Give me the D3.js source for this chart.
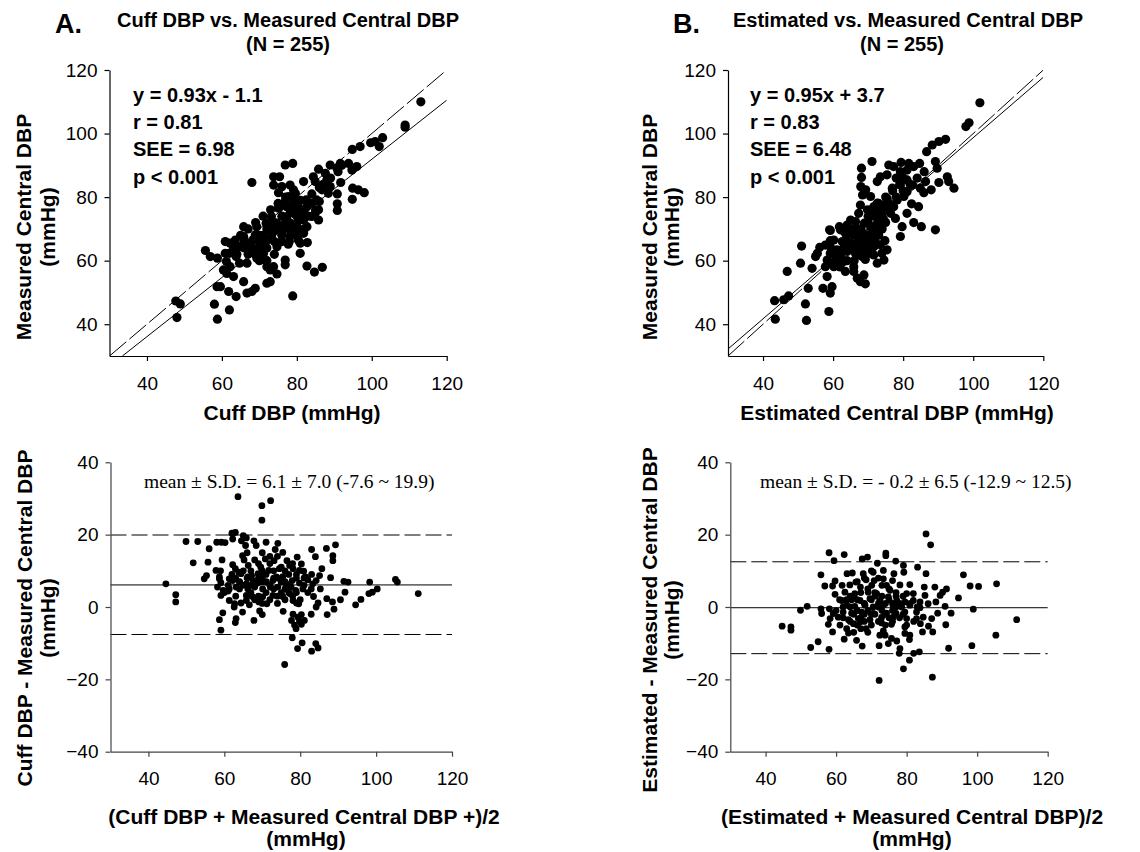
<!DOCTYPE html>
<html>
<head>
<meta charset="utf-8">
<script src="https://cdn.jsdelivr.net/npm/d3@7"></script>
<style>
  html, body { margin: 0; padding: 0; background: #fff; }
  svg { display: block; font-family: "Liberation Sans", Arial, Helvetica, sans-serif; }
</style>
</head>
<body>
<script>
// ---- Axis tick values ----
const xTicks = [40, 60, 80, 100, 120];
const yTicksScatter = [40, 60, 80, 100, 120];
const yTicksDiff = [-40, -20, 0, 20, 40];

// ---- Regression fits and agreement limits ----
const fitA = { slope: 0.93, intercept: -1.1 };
const fitB = { slope: 0.95, intercept: 3.7 };
const limitsA = { mean: 6.1, lower: -7.6, upper: 19.9 };
const limitsB = { mean: -0.2, lower: -12.9, upper: 12.5 };

// ---- Panel A (top): cuff DBP vs measured central DBP [cuff, central] ----
const cuffVsCentral = [
  [113.1,110],[108.9,102.7],[108.9,102],[102.9,98.7],[99.7,97.1],[100.9,97.5],[102,95.9],[96.9,95.9],[94.8,95],
  [93.8,90.6],[96,89.6],[94.7,88.5],[91.6,90.6],[88.9,90.1],[90.7,89.1],[87.6,87.5],[85.8,88.8],[94.9,82.8],
  [96.4,82.3],[98,81.4],[94.8,79.3],[91.7,84.6],[90.8,81],[90.8,77.9],[90.8,75.8],[88.9,83.3],[88.4,81.2],
  [86.7,82.3],[88,85.4],[84.4,86.4],[84.9,84.9],[81.8,84.9],[85.3,79.1],[85.8,72.8],[85.8,76],[84,78.1],
  [82.5,79.1],[84.9,74.9],[78.9,90.6],[76.9,90.1],[75.4,86.4],[73.8,86.4],[73.8,83.8],[76,83.3],[78.2,83.8],
  [79.1,82.3],[68,84.6],[75.1,81.4],[77.8,80.2],[75.3,76.8],[76.9,78.6],[79.1,78.1],[80.4,77],[81.3,74.9],
  [79.1,74.9],[77.3,73.9],[78,71.8],[80,71.8],[81.8,72.8],[82.7,70.7],[80.9,69.7],[79.1,69.7],[76.4,70.7],
  [74.7,71.8],[76,68.6],[74.2,69.7],[73.3,68.1],[78.2,67.6],[80.4,66.5],[82.8,65.7],[81.8,68.6],[77.7,65.2],
  [74.7,64.4],[72,66.5],[72.4,69.7],[71.8,71.8],[69.3,70.7],[68.9,68.1],[70.2,65.5],[68.4,66.5],[67.1,65.5],
  [65.8,67.6],[65.8,70.7],[64.9,64.4],[63.6,66.5],[62.2,65.5],[60.9,66],[63.1,63.9],[70.2,63.4],[71.1,62.3],
  [68.4,63.9],[67.1,62.3],[63.8,61.3],[62,62.3],[61.2,59.7],[62.2,58.1],[60.4,57.1],[61.3,56],[63.1,55],
  [64.7,59.2],[66.7,59.2],[69.3,60.8],[71.6,60.2],[72,58.1],[72.9,57.1],[73.8,58.1],[74.7,55.8],[76.9,60.2],
  [76.9,58.7],[80.9,62.3],[82.7,58.3],[84.7,56.4],[86.8,57.9],[65.8,53.4],[72,52.9],[72.9,53.4],[68,50.3],
  [66.7,49.8],[68.9,51.3],[59.6,51.8],[58.7,51.8],[61.8,50.3],[63.8,48.7],[78.9,48.9],[58,46.3],[62,44.5],
  [58.8,41.6],[55.6,63.2],[56.9,61.3],[58.8,60.8],[47.7,47.3],[48.9,46.4],[48,42.1],[60.9,62.3],[73.2,73.9],
  [75.1,76.5],[78.2,76],[77.3,77],[79.6,81.2],[82.7,77],[84,73.9],[86,78.6],[80.9,65.5],
  [70,68],[72,70],[74,72],[76,74],[78,72],[80,74],[82,76],[76,68],[78,70],[74,66],[72,64],[70,66],[68,64],
  [66,66],[67,62],[69,62],[71,68],[73,70],[75,70],[77,72],[79,76],[81,73],[83,78],[84,81],[86,83],[82,70],
  [80,68],[78,66],[76,66],[74,62],[72,60],[70,60],[66,64],[64,62],[63,65],[65,68],[67,70],[69,72],[71,74],
  [73,76],[75,78],[77,80],[79,80],[81,79],[83,74],[85,76],[87,84],[89,86],[91,88],[92,90]
];

// ---- Panel B (top): estimated vs measured central DBP [estimated, central] ----
const estimatedVsCentral = [
  [101.9,109.7],[98.8,103.4],[97.9,102.2],[92.1,98.2],[90.2,97.5],[88.3,96.4],[86.7,94.3],[89.2,91.2],[89.7,89.1],
  [71.1,91.2],[68.1,89.1],[75.9,90.1],[77.3,89.6],[79.4,90.9],[81.6,90.6],[84.7,90.6],[83,89.6],[81.1,88.5],
  [79.2,88],[75.4,87],[73.5,86.4],[72.6,84.9],[68.1,86.2],[67.9,83.3],[90.2,84.6],[92.6,86.4],[93,84.9],
  [94.5,82.8],[86.4,84.9],[84.9,82.8],[85.9,81.4],[88,82.3],[82.7,83.8],[81.1,85.4],[79.2,83.8],[81.1,81.7],
  [80.2,80.2],[78.3,79.1],[76.9,82.8],[75.4,79.6],[77.3,77],[82.4,77.9],[76.4,74.9],[77.8,73.3],[79.7,70.7],
  [79.2,67.6],[83,72],[85.2,70.7],[89.2,69.7],[74.5,77.5],[72.6,78.1],[70.7,80.2],[68.4,80.7],[69.3,82.3],
  [71.6,77],[69.8,76],[67.8,77.5],[67.3,74.9],[70.7,73.9],[73,74.9],[74.5,72.8],[72.6,71.8],[70.7,70.7],
  [68.9,71.8],[66.4,72.3],[65,72.8],[64,71.2],[73.5,69.7],[71.6,68.6],[69.2,67.6],[67.3,68.6],[66,69.7],
  [63.5,68.6],[62.1,69.7],[61.8,70.7],[59.2,69.5],[74.8,66.3],[73.5,65],[71.6,64.4],[69.7,65.5],[67.8,64.4],
  [65,65.5],[62.6,66],[60.2,66.5],[59.2,64.4],[61.1,63.4],[59.2,62.3],[58.3,60.2],[59.7,59.2],[62.1,61.3],
  [64,62.9],[66.4,62.3],[68.3,61.3],[70.2,62.3],[71.6,61.8],[73.9,62.3],[75.4,63.4],[74.5,60.2],[72.6,59.2],
  [69.2,60.4],[66.9,61.8],[65.9,58.1],[63,59.7],[60.2,58.1],[61.6,58.7],[63.5,56.6],[57.8,58.1],[58.3,55],
  [57.1,51.3],[59.7,51.8],[59.2,49.8],[65.9,56.6],[66.9,54.5],[68.8,55.5],[69.2,52.7],[67.8,53.4],[57.8,64.9],
  [56.2,64.2],[55,61.3],[55.5,62.3],[54,57.6],[52.9,51.3],[51,64.6],[50.7,59.2],[46.9,56.6],[52.1,46.4],
  [52.4,41.2],[47.3,48.9],[45.9,47.7],[43.3,47.4],[43.5,41.6],[58.8,44],[59,69.7],[59.2,66.3],[81.1,74.9],
  [84.4,77],
  [68,70],[70,72],[72,70],[71,66],[69,64],[67,66],[66,68],[65,64],[64,66],[63,64],[62,62],[61,60],[60,62],
  [63,60],[66,60],[68,62],[70,64],[72,66],[73,68],[74,70],[75,72],[76,76],[73,72],[71,70],[69,68],[67,70],
  [65,70],[64,68],[70,74],[72,74],[74,74],[71,76],[73,78],[75,80],[77,82],[79,84],[78,86],[80,86],[82,84],
  [84,86],[86,88],[80,82],[78,80],[76,78],[74,76],[70,68],[68,66],[66,64],[62,58],[64,60]
];

// ---- Panel A (bottom): Bland-Altman, [average, cuff - central] ----
const agreementA = [
  [63.6,30.5],[72.2,29.4],[69.9,28],[69.9,24],[62,20.4],[62.9,20.6],[65,19.7],[49.9,18.1],[53,18.1],[58,17.9],
  [59.2,17.9],[60.2,17.8],[62.2,18.8],[64.5,18.3],[65.8,19.1],[65.6,17],[67.8,18.3],[68.4,17],[71,17.9],
  [74.1,17.6],[89.3,17.2],[86.9,16.2],[83,15.9],[56,16.1],[73.4,15.9],[75.4,15.1],[84,13.9],[88.6,14.2],
  [88.6,12.8],[79.2,13.8],[64.8,14.2],[65.2,13],[70.8,13.3],[59.4,13],[51.8,12.2],[55.7,12.4],[73.1,12.8],
  [76.5,12.8],[77.2,11.5],[80.3,11.9],[62.2,11.7],[66.3,11.5],[69.6,11],[85.7,10.6],[57.8,10.1],[62.9,10.6],
  [63.8,9.6],[71.7,10.1],[74.5,10.6],[78.1,10.6],[79.8,10.1],[80.9,9.9],[64.4,9.2],[68.9,9.2],[67.2,8.7],
  [85.1,8.7],[58.7,8.3],[55.3,8.7],[54.7,7.8],[58.7,7.8],[61.3,7.8],[66.2,8.3],[70,8.3],[73.7,8.3],[75.4,8.4],
  [81.4,8.3],[88,8.1],[82,7.5],[44.6,6.4],[59.1,6.7],[62.2,7.3],[64,6.9],[67.5,7.3],[65.8,6.4],[68.8,6.6],
  [71,6.9],[72.8,7.3],[75,6.9],[76.3,6.4],[77.9,7.3],[79.8,6.6],[83.3,6.4],[84.2,7.3],[91.5,7.1],[92.6,6.9],
  [98.3,6.9],[105.1,7.6],[105.6,6.9],[58.2,5.5],[59.7,4.6],[61.3,5],[63.1,5.5],[66.2,5],[68,5.5],[70.1,5],
  [72.1,5.5],[74.1,5.5],[76.1,5],[77.6,5.5],[78.8,4.6],[80.7,5],[82.9,5],[85.3,5],[91.8,4.1],[100.3,5],
  [99,4.1],[111.1,3.7],[47.2,3.4],[47.2,1.4],[59.1,3.2],[61,4.4],[65.8,3.2],[67.5,2.8],[70.1,2.8],[72.8,3.2],
  [75.4,2.9],[77.2,3.7],[83.5,2.9],[87,2.3],[90.6,2],[98.1,3.7],[61.3,1.8],[62.7,0.9],[64.4,1.1],[66.6,0.6],
  [65.8,1.8],[69.1,1.4],[71.2,0.9],[78.1,1.8],[79,1.1],[79.6,0.9],[84.7,1.1],[88.5,1.4],[94.6,0.6],[96,2.1],
  [62.6,0],[64.8,-1.4],[69.3,-1.1],[59.6,-1.6],[75.5,-1.2],[88.9,-0.6],[84.2,0],[70,-2.1],[82.9,-2],[87.1,-2.1],
  [63.1,-3.2],[67.8,-3.7],[58.7,-3.5],[62.9,-4.3],[78.1,-2],[79.4,-2.8],[80.3,-2.1],[77.7,-3.7],[79.8,-3.9],
  [81.1,-3.7],[78.5,-5],[80.3,-4.8],[78.9,-6],[59.1,-6.4],[77.9,-8.5],[79.3,-11.5],[80.5,-9.9],[84.1,-10.1],
  [83,-12.2],[84.7,-11.3],[75.9,-15.9],
  [66,8],[68,6],[70,7],[72,6],[74,8],[76,7],[67,4],[69,3],[71,4],[73,5],[75,4],[77,6],[79,8],[64,7],[63,3],
  [65,10],[67,10],[69,12],[71,9],[73,10],[75,11],[77,9],[79,9],[81,6],[82,4],[80,2],[78,3],[76,2],[74,1],
  [72,2],[70,1],[68,2],[66,3],[64,5],[62,9],[61,6],[60,4],[59,10],[72,14],[74,14],[76,10],[78,12],[70,15],
  [68,13],[66,15],[73,8],[75,7],[71,7],[69,8],[67,6],[77,4],[79,4],[81,8],[83,9],[65,6],[63,8],[70,10],
  [72,12],[74,3],[76,5]
];

// ---- Panel B (bottom): Bland-Altman, [average, estimated - central] ----
const agreementB = [
  [85.5,20.2],[86.8,17.2],[58,15],[62.3,14.5],[74.1,14.9],[74.1,14.2],[59.4,12.8],[67.4,13.3],[68.9,13.8],
  [71.7,12.1],[76.9,12.7],[79.1,11.5],[83.1,11],[55.7,8.9],[63.1,9.2],[64.6,9.4],[67.7,9.2],[70.5,9.6],
  [73.4,10.1],[76.4,9.2],[79.2,9.6],[85.5,9.2],[96.1,8.9],[59.7,7.2],[65.6,6.9],[68.5,7.5],[70.8,7.3],
  [73.4,7.8],[76,7.3],[80.9,6.2],[98,5.8],[100.4,5.7],[105.5,6.4],[56.8,5.8],[59,5.8],[61.7,6],[63.9,6.1],
  [66.9,5.5],[70.1,6],[74.3,6],[78.1,6.1],[85,5.5],[88,5.5],[91.3,5],[90.2,4.1],[59.7,3.5],[62.5,4.1],
  [65.3,3.7],[69.1,4.1],[71.5,3.7],[75.3,4.6],[80,3.7],[81.9,3.7],[85.2,3.2],[89.5,3.2],[94.7,2.5],[61.6,1.8],
  [64.4,2],[66.8,1.8],[69.6,2.3],[72.4,1.8],[74.8,2.8],[77.2,1.8],[79.5,1.4],[81.9,1.8],[83.8,1.4],[86.1,0.9],
  [88.3,1.4],[51.8,0.2],[49.9,-0.9],[55.7,-0.5],[58.1,-0.5],[63,0.5],[65.3,0.2],[68.2,0.5],[70.5,0],[73.4,0.5],
  [76.2,0.2],[78.6,0],[80.9,0.5],[83.8,-0.2],[90.9,0.2],[98.9,-0.6],[55.9,-1.8],[59.2,-1.8],[62,-1.4],
  [64.4,-1.7],[67.2,-1.4],[70.5,-1.8],[74.3,-1.7],[77,-1.8],[79.5,-1.4],[82.8,-1.4],[88.8,-1.7],[92.6,-1.7],
  [58.3,-3.2],[60.6,-2.8],[63.5,-3.5],[66.3,-3.2],[69.6,-3.5],[72.9,-2.9],[76.2,-2.8],[80,-3.2],[82.8,-3.2],
  [84.7,-2.8],[87.1,-3.2],[111.2,-3.5],[44.7,-5.3],[47.2,-5.5],[47.2,-6.4],[57.8,-4.8],[61.1,-5],[64.9,-4.6],
  [66.8,-4.1],[72.9,-4.4],[75.7,-4.8],[79.5,-5.5],[83.9,-4.6],[86.2,-5.3],[91.1,-4.9],[59,-6.9],[63.5,-7.2],
  [68.5,-6],[73.4,-6.6],[73.9,-7.8],[79.5,-7.3],[80.9,-7.8],[84.5,-6.9],[87.4,-6.9],[72.4,-7.8],[105.3,-7.8],
  [62.3,-8.9],[65.8,-9.2],[75.7,-8.7],[77.2,-9.4],[80.8,-9],[54.9,-9.6],[52.8,-11.2],[58,-11.7],[67.4,-10.8],
  [72.2,-10.7],[74.8,-10.1],[78.1,-11.5],[77.9,-12.8],[82,-12.8],[83.6,-12.4],[91.9,-11.4],[98.5,-10.7],
  [80.8,-14.7],[79.1,-17.1],[72.2,-20.3],[87.3,-19.4],
  [64,0],[66,-1],[68,1],[70,2],[72,0],[74,1],[76,-1],[78,1],[65,-2],[67,-3],[69,-1],[71,-2],[73,-1],[75,-3],
  [77,0],[79,-2],[63,2],[65,3],[67,4],[69,5],[71,3],[73,3],[75,2],[77,3],[64,-4],[66,-5],[68,-4],[70,-5],
  [72,-4],[74,-5],[76,-4],[62,-3],[60,-1],[61,2],[63,-6],[65,-7],[67,-6],[69,-7],[71,4],[73,6],[75,5],[77,4],
  [79,3],[81,1],[83,0],[82,-4],[80,-5],[78,-3],[72,8],[70,10],[68,8],[66,7],[64,3],[62,0],[66,2],[68,-2],
  [70,-2],[72,1],[74,-2],[76,1]
];

const W = 1140, H = 852;
const svg = d3.select("body").append("svg").attr("width", W).attr("height", H);
const SANS = '"Liberation Sans", Arial, Helvetica, sans-serif';
const SERIF = '"Liberation Serif", "Times New Roman", Times, serif';

function drawAxes(g, x, y, yTicks, color, labelGap) {
  const xa = g.append("g")
    .attr("transform", `translate(0,${y.range()[0]})`)
    .call(d3.axisBottom(x).tickValues(xTicks).tickSize(5).tickSizeOuter(0).tickPadding(labelGap));
  const ya = g.append("g")
    .attr("transform", `translate(${x.range()[0]},0)`)
    .call(d3.axisLeft(y).tickValues(yTicks).tickSize(5).tickSizeOuter(0).tickPadding(7));
  [xa, ya].forEach(a => {
    a.selectAll("path.domain").attr("stroke", color).attr("stroke-width", 1.2);
    a.selectAll(".tick line").attr("stroke", color).attr("stroke-width", 1.2);
    a.selectAll(".tick text").attr("fill", "#000")
      .style("font-family", SANS).style("font-size", "19px");
  });
}

function yTitle(lines, xs, cy) {
  lines.forEach((t, i) => {
    svg.append("text")
      .attr("transform", `translate(${xs[i]},${cy}) rotate(-90)`)
      .attr("text-anchor", "middle")
      .style("font-family", SANS).style("font-size", "21px").style("font-weight", "bold")
      .text(t);
  });
}

function centerText(t, cx, by, size) {
  svg.append("text").attr("x", cx).attr("y", by).attr("text-anchor", "middle")
    .style("font-family", SANS).style("font-size", size + "px").style("font-weight", "bold")
    .text(t);
}

// ---- Scatter panel with identity and regression lines ----
function scatterPanel(o) {
  const x = d3.scaleLinear().domain([30, 120]).range([o.left, o.right]);
  const y = d3.scaleLinear().domain([30, 120]).range([o.bottom, o.top]);
  const g = svg.append("g");
  const clipId = "clip-" + o.id;
  g.append("clipPath").attr("id", clipId).append("rect")
    .attr("x", o.left).attr("y", o.top)
    .attr("width", o.right - o.left).attr("height", o.bottom - o.top);

  const lines = g.append("g").attr("clip-path", `url(#${clipId})`);
  // line of identity
  lines.append("line")
    .attr("x1", x(30)).attr("y1", y(30)).attr("x2", x(120)).attr("y2", y(120))
    .attr("stroke", "#000").attr("stroke-width", 1).attr("stroke-dasharray", "22,4");
  // regression line
  const fx = v => o.fit.slope * v + o.fit.intercept;
  const x0 = Math.max(30, (30 - o.fit.intercept) / o.fit.slope);
  lines.append("line")
    .attr("x1", x(x0)).attr("y1", y(fx(x0))).attr("x2", x(120)).attr("y2", y(fx(120)))
    .attr("stroke", "#000").attr("stroke-width", 1);

  g.append("g").selectAll("circle").data(o.data).join("circle")
    .attr("cx", d => x(d[0])).attr("cy", d => y(d[1])).attr("r", 4.6).attr("fill", "#000");

  drawAxes(g, x, y, yTicksScatter, "#000", 16);

  o.stats.forEach((t, i) => {
    svg.append("text").attr("x", o.statsX).attr("y", 102 + i * 27.2)
      .style("font-family", SANS).style("font-size", "20px").style("font-weight", "bold")
      .text(t);
  });
}

// ---- Bland-Altman panel with mean and limits of agreement ----
function agreementPanel(o) {
  const x = d3.scaleLinear().domain([30, 120]).range([o.left, o.right]);
  const y = d3.scaleLinear().domain([-40, 40]).range([o.bottom, o.top]);
  const g = svg.append("g");

  g.append("line").attr("x1", x(30)).attr("x2", x(120))
    .attr("y1", y(o.lim.mean)).attr("y2", y(o.lim.mean))
    .attr("stroke", "#000").attr("stroke-width", 1);
  [o.lim.upper, o.lim.lower].forEach(v => {
    g.append("line").attr("x1", x(30)).attr("x2", x(120))
      .attr("y1", y(v)).attr("y2", y(v))
      .attr("stroke", "#000").attr("stroke-width", 1).attr("stroke-dasharray", "16,5");
  });

  g.append("g").selectAll("circle").data(o.data).join("circle")
    .attr("cx", d => x(d[0])).attr("cy", d => y(d[1])).attr("r", 3.4).attr("fill", "#000");

  drawAxes(g, x, y, yTicksDiff, "#444", 15);

  svg.append("text").attr("x", o.noteX).attr("y", 488)
    .style("font-family", SERIF).style("font-size", "19.5px")
    .text(o.note);
}

// ---- Panel A ----
svg.append("text").attr("x", 55).attr("y", 33)
  .style("font-family", SANS).style("font-size", "27px").style("font-weight", "bold").text("A.");
centerText("Cuff DBP vs. Measured Central DBP", 288, 27, 20);
centerText("(N = 255)", 288, 51, 20);

scatterPanel({
  id: "a", left: 109.5, right: 446.7, top: 70, bottom: 356,
  data: cuffVsCentral, fit: fitA, statsX: 133,
  stats: ["y = 0.93x - 1.1", "r = 0.81", "SEE = 6.98", "p < 0.001"]
});
yTitle(["Measured Central DBP", "(mmHg)"], [31, 55], 227);
centerText("Cuff DBP (mmHg)", 292, 420, 21);

agreementPanel({
  left: 110.5, right: 452, top: 462.3, bottom: 751.7,
  data: agreementA, lim: limitsA, noteX: 144,
  note: "mean \u00b1 S.D. = 6.1 \u00b1 7.0 (-7.6 ~ 19.9)"
});
yTitle(["Cuff DBP - Measured Central DBP", "(mmHg)"], [32, 55], 618);
centerText("(Cuff DBP + Measured Central DBP +)/2", 304, 824, 21);
centerText("(mmHg)", 306, 846, 21);

// ---- Panel B ----
svg.append("text").attr("x", 673).attr("y", 33)
  .style("font-family", SANS).style("font-size", "27px").style("font-weight", "bold").text("B.");
centerText("Estimated vs. Measured Central DBP", 908, 27, 20);
centerText("(N = 255)", 902, 51, 20);

scatterPanel({
  id: "b", left: 728, right: 1043.3, top: 70, bottom: 356,
  data: estimatedVsCentral, fit: fitB, statsX: 750,
  stats: ["y = 0.95x + 3.7", "r = 0.83", "SEE = 6.48", "p < 0.001"]
});
yTitle(["Measured Central DBP", "(mmHg)"], [657, 679], 227);
centerText("Estimated Central DBP (mmHg)", 897, 420, 21);

agreementPanel({
  left: 730.3, right: 1047.7, top: 462.3, bottom: 751.7,
  data: agreementB, lim: limitsB, noteX: 760,
  note: "mean \u00b1 S.D. = - 0.2 \u00b1 6.5 (-12.9 ~ 12.5)"
});
yTitle(["Estimated - Measured Central DBP", "(mmHg)"], [657, 679], 620);
centerText("(Estimated + Measured Central DBP)/2", 912, 824, 21);
centerText("(mmHg)", 912, 846, 21);
</script>
</body>
</html>
